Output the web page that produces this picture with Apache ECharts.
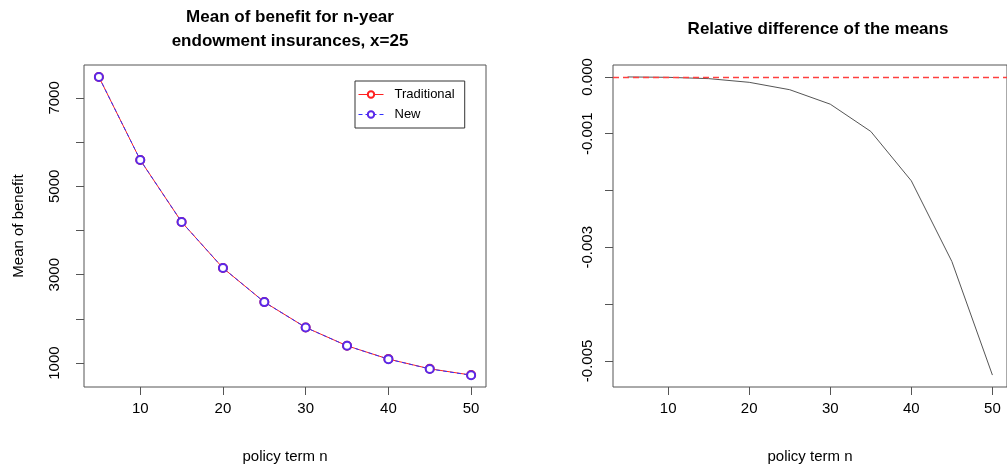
<!DOCTYPE html>
<html>
<head>
<meta charset="utf-8">
<script src="https://cdn.jsdelivr.net/npm/echarts@6/dist/echarts.min.js"></script>
<style>
  html, body { margin: 0; padding: 0; background: #fff; }
  #chart { width: 1007px; height: 469px; }
</style>
</head>
<body>
<div id="chart"></div>
<script>
// policy terms n
const terms = [5, 10, 15, 20, 25, 30, 35, 40, 45, 50]
// mean of benefit
const traditional = [7475, 5596, 4193, 3151, 2381, 1807, 1392, 1091, 871, 729]
const newMeans = [7475, 5596, 4193, 3151, 2380, 1806, 1391, 1089, 868, 725]
// relative difference of the means
const relDiff = [0, -0.000007, -0.00003, -0.000095, -0.000225, -0.00048, -0.00096, -0.00183, -0.00325, -0.00525]

const xTicks = [10, 20, 30, 40, 50]
const leftTicks = [1000, 2000, 3000, 4000, 5000, 6000, 7000]
const leftLabels = [1000, 3000, 5000, 7000]
const rightTicks = [-0.005, -0.004, -0.003, -0.002, -0.001, 0]
const rightLabels = [-0.005, -0.003, -0.001, 0]

const font = 'Liberation Sans, Arial, Helvetica, sans-serif'
const pairs = ys => terms.map((t, i) => [t, ys[i]])

const xAxisBase = (gridIndex) => ({
  type: 'value',
  gridIndex,
  min: 3.2,
  max: 51.8,
  name: 'policy term n',
  nameLocation: 'middle',
  nameGap: 62,
  nameTextStyle: { fontFamily: font, fontSize: 15, color: '#000' },
  axisLine: { show: false, onZero: false },
  axisTick: { show: true, length: 8, customValues: xTicks, lineStyle: { color: '#555' } },
  axisLabel: { customValues: xTicks, margin: 14, fontFamily: font, fontSize: 15, color: '#000' },
  splitLine: { show: false }
})

const chart = echarts.init(document.getElementById('chart'))
chart.setOption({
  animation: false,
  backgroundColor: '#fff',
  title: [
    {
      text: 'Mean of benefit for n-year\nendowment insurances, x=25',
      left: 285, top: 0, textAlign: 'center',
      textStyle: { fontFamily: font, fontSize: 17, fontWeight: 'bold', color: '#000', lineHeight: 24 }
    },
    {
      text: 'Relative difference of the means',
      left: 813, top: 16, textAlign: 'center',
      textStyle: { fontFamily: font, fontSize: 17, fontWeight: 'bold', color: '#000' }
    }
  ],
  legend: {
    data: ['Traditional', 'New'],
    orient: 'vertical',
    left: 355, top: 81,
    padding: [7, 10, 7, 3],
    itemWidth: 25, itemHeight: 8, itemGap: 7,
    borderColor: '#333', borderWidth: 1,
    lineStyle: { width: 1 },
    itemStyle: { borderWidth: 1 },
    textStyle: { fontFamily: font, fontSize: 13, color: '#000', padding: [0, 0, 0, 6] }
  },
  grid: [
    { left: 84, top: 65, width: 402, height: 322, show: true, borderColor: '#555', borderWidth: 1 },
    { left: 613, top: 65, width: 400, height: 322, show: true, borderColor: '#555', borderWidth: 1 }
  ],
  xAxis: [xAxisBase(0), xAxisBase(1)],
  yAxis: [
    {
      type: 'value', gridIndex: 0,
      min: 459, max: 7745,
      name: 'Mean of benefit',
      nameLocation: 'middle', nameGap: 58,
      nameTextStyle: { fontFamily: font, fontSize: 15, color: '#000' },
      axisLine: { show: false },
      axisTick: { show: true, length: 8, customValues: leftTicks, lineStyle: { color: '#555' } },
      axisLabel: {
        customValues: leftLabels, rotate: 90, margin: 22,
        fontFamily: font, fontSize: 15, color: '#000',
        formatter: v => String(v)
      },
      splitLine: { show: false }
    },
    {
      type: 'value', gridIndex: 1,
      min: -0.00546, max: 0.00021,
      axisLine: { show: false },
      axisTick: { show: true, length: 8, customValues: rightTicks, lineStyle: { color: '#555' } },
      axisLabel: {
        customValues: rightLabels, rotate: 90, margin: 18,
        fontFamily: font, fontSize: 15, color: '#000',
        formatter: v => v.toFixed(3)
      },
      splitLine: { show: false }
    }
  ],
  series: [
    {
      name: 'Traditional',
      type: 'line',
      xAxisIndex: 0, yAxisIndex: 0,
      data: pairs(traditional),
      color: '#ff2020',
      symbol: 'emptyCircle', symbolSize: 8,
      lineStyle: { width: 1, color: '#ff2020' },
      itemStyle: { color: '#ff2020', borderWidth: 1.2 }
    },
    {
      name: 'New',
      type: 'line',
      xAxisIndex: 0, yAxisIndex: 0,
      data: pairs(newMeans),
      color: '#3030ff',
      symbol: 'emptyCircle', symbolSize: 8,
      lineStyle: { width: 1, color: '#3030ff', type: [4, 3] },
      itemStyle: { color: '#5a28e8', borderWidth: 1.2 }
    },
    {
      name: 'diff',
      type: 'line',
      xAxisIndex: 1, yAxisIndex: 1,
      data: pairs(relDiff),
      color: '#555',
      symbol: 'none',
      z: 3,
      lineStyle: { width: 1, color: '#555' }
    },
    {
      name: 'zero',
      type: 'line',
      xAxisIndex: 1, yAxisIndex: 1,
      data: [],
      color: '#ff4040',
      symbol: 'none',
      z: 2,
      markLine: {
        silent: true,
        symbol: 'none',
        label: { show: false },
        itemStyle: { color: '#ff4040' },
        lineStyle: { color: '#ff4040', type: [6, 4], width: 1.3, opacity: 1 },
        data: [{ yAxis: 0 }]
      }
    }
  ]
})
</script>
</body>
</html>
